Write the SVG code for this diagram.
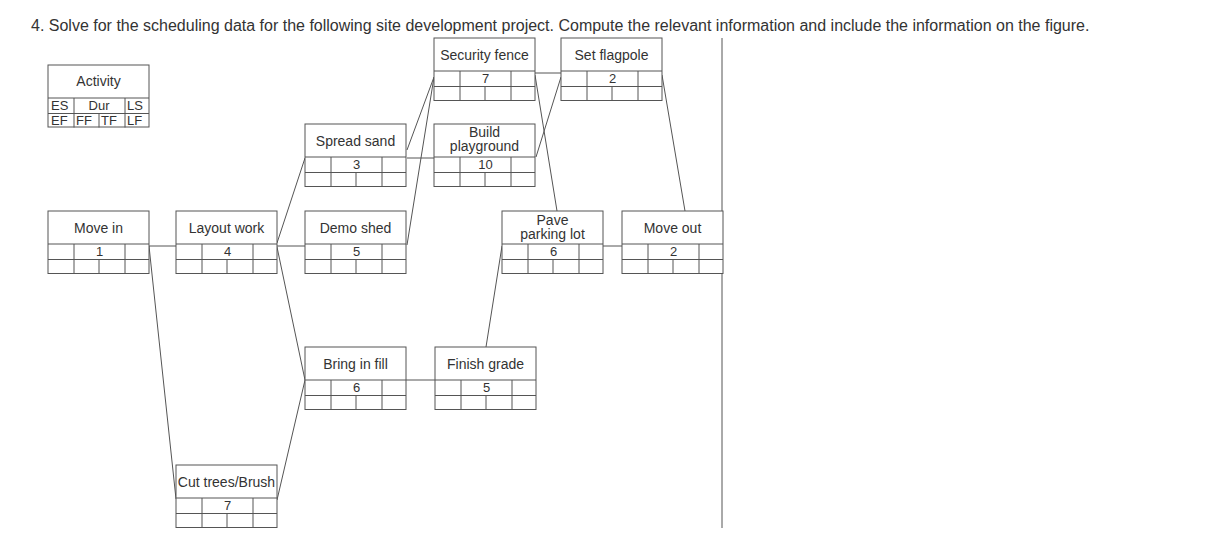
<svg xmlns="http://www.w3.org/2000/svg" width="1218" height="540" viewBox="0 0 1218 540">
<defs>
<style>
.t{font-family:"Liberation Sans",Arial,sans-serif;fill:#333;}
.title{font-size:16px;}
.lbl{font-size:14px;text-anchor:middle;}
.num{font-size:13px;text-anchor:middle;}
.leg{font-size:13px;}
.box{fill:#fff;stroke:#555;stroke-width:1;}
.ln{stroke:#555;stroke-width:1;fill:none;}
.cn{stroke:#555;stroke-width:1;fill:none;}
</style>
<g id="grid">
<line class="ln" x1="0" y1="33" x2="101" y2="33"/>
<line class="ln" x1="0" y1="48.5" x2="101" y2="48.5"/>
<line class="ln" x1="26" y1="33" x2="26" y2="62.5"/>
<line class="ln" x1="77" y1="33" x2="77" y2="62.5"/>
<line class="ln" x1="51" y1="48.5" x2="51" y2="62.5"/>
</g>
</defs>
<rect width="1218" height="540" fill="#fff"/>
<text class="t title" x="31" y="30.5">4. Solve for the scheduling data for the following site development project. Compute the relevant information and include the information on the figure.</text>

<g id="connectors">
<line class="cn" x1="149" y1="246" x2="176" y2="246"/>
<line class="cn" x1="149" y1="246" x2="176" y2="499"/>
<line class="cn" x1="277" y1="243" x2="305" y2="158"/>
<line class="cn" x1="277" y1="246" x2="305" y2="246"/>
<line class="cn" x1="277" y1="247" x2="305" y2="380"/>
<line class="cn" x1="277" y1="500" x2="305" y2="380"/>
<line class="cn" x1="407" y1="150" x2="434" y2="77"/>
<line class="cn" x1="407" y1="158" x2="434" y2="158"/>
<line class="cn" x1="407" y1="245" x2="434" y2="77"/>
<line class="cn" x1="535" y1="73" x2="561" y2="73"/>
<line class="cn" x1="535" y1="75" x2="557" y2="211"/>
<line class="cn" x1="536" y1="157" x2="561" y2="77"/>
<line class="cn" x1="406" y1="380" x2="435" y2="380"/>
<line class="cn" x1="486" y1="347" x2="502" y2="246"/>
<line class="cn" x1="603" y1="246" x2="622" y2="246"/>
<line class="cn" x1="662" y1="75" x2="685" y2="211"/>
<line class="cn" x1="722" y1="38" x2="722" y2="528"/>
</g>

<g id="legend" transform="translate(48,65)">
<rect class="box" x="0" y="0" width="101" height="62"/>
<use href="#grid"/>
<text class="t lbl" x="50.5" y="21">Activity</text>
<text class="t leg" x="3" y="45">ES</text>
<text class="t leg" x="51" y="45" text-anchor="middle">Dur</text>
<text class="t leg" x="79" y="45">LS</text>
<text class="t leg" x="3" y="60">EF</text>
<text class="t leg" x="28" y="60">FF</text>
<text class="t leg" x="53" y="60">TF</text>
<text class="t leg" x="79" y="60">LF</text>
</g>

<g id="move-in" transform="translate(48,211)">
<rect class="box" x="0" y="0" width="101" height="62.5"/>
<use href="#grid"/>
<text class="t lbl" x="50.5" y="21.5">Move in</text>
<text class="t num" x="51.5" y="45">1</text>
</g>

<g id="layout-work" transform="translate(176,211)">
<rect class="box" x="0" y="0" width="101" height="62.5"/>
<use href="#grid"/>
<text class="t lbl" x="50.5" y="21.5">Layout work</text>
<text class="t num" x="51.5" y="45">4</text>
</g>

<g id="cut-trees" transform="translate(176,465)">
<rect class="box" x="0" y="0" width="101" height="62.5"/>
<use href="#grid"/>
<text class="t lbl" x="50.5" y="21.5">Cut trees/Brush</text>
<text class="t num" x="51.5" y="45">7</text>
</g>

<g id="spread-sand" transform="translate(305,124)">
<rect class="box" x="0" y="0" width="101" height="62.5"/>
<use href="#grid"/>
<text class="t lbl" x="50.5" y="21.5">Spread sand</text>
<text class="t num" x="51.5" y="45">3</text>
</g>

<g id="demo-shed" transform="translate(305,211)">
<rect class="box" x="0" y="0" width="101" height="62.5"/>
<use href="#grid"/>
<text class="t lbl" x="50.5" y="21.5">Demo shed</text>
<text class="t num" x="51.5" y="45">5</text>
</g>

<g id="bring-in-fill" transform="translate(305,347)">
<rect class="box" x="0" y="0" width="101" height="62.5"/>
<use href="#grid"/>
<text class="t lbl" x="50.5" y="21.5">Bring in fill</text>
<text class="t num" x="51.5" y="45">6</text>
</g>

<g id="security-fence" transform="translate(434,38)">
<rect class="box" x="0" y="0" width="101" height="62.5"/>
<use href="#grid"/>
<text class="t lbl" x="50.5" y="21.5">Security fence</text>
<text class="t num" x="51.5" y="45">7</text>
</g>

<g id="build-playground" transform="translate(434,124)">
<rect class="box" x="0" y="0" width="101" height="62.5"/>
<use href="#grid"/>
<text class="t lbl" x="50.5" y="12.5">Build</text>
<text class="t lbl" x="50.5" y="27">playground</text>
<text class="t num" x="51.5" y="45">10</text>
</g>

<g id="finish-grade" transform="translate(435,347)">
<rect class="box" x="0" y="0" width="101" height="62.5"/>
<use href="#grid"/>
<text class="t lbl" x="50.5" y="21.5">Finish grade</text>
<text class="t num" x="51.5" y="45">5</text>
</g>

<g id="set-flagpole" transform="translate(561,38)">
<rect class="box" x="0" y="0" width="101" height="62.5"/>
<use href="#grid"/>
<text class="t lbl" x="50.5" y="21.5">Set flagpole</text>
<text class="t num" x="51.5" y="45">2</text>
</g>

<g id="pave-parking-lot" transform="translate(502,211)">
<rect class="box" x="0" y="0" width="101" height="62.5"/>
<use href="#grid"/>
<text class="t lbl" x="50.5" y="13.5">Pave</text>
<text class="t lbl" x="50.5" y="28">parking lot</text>
<text class="t num" x="51.5" y="45">6</text>
</g>

<g id="move-out" transform="translate(622,211)">
<rect class="box" x="0" y="0" width="101" height="62.5"/>
<use href="#grid"/>
<text class="t lbl" x="50.5" y="21.5">Move out</text>
<text class="t num" x="51.5" y="45">2</text>
</g>
</svg>
